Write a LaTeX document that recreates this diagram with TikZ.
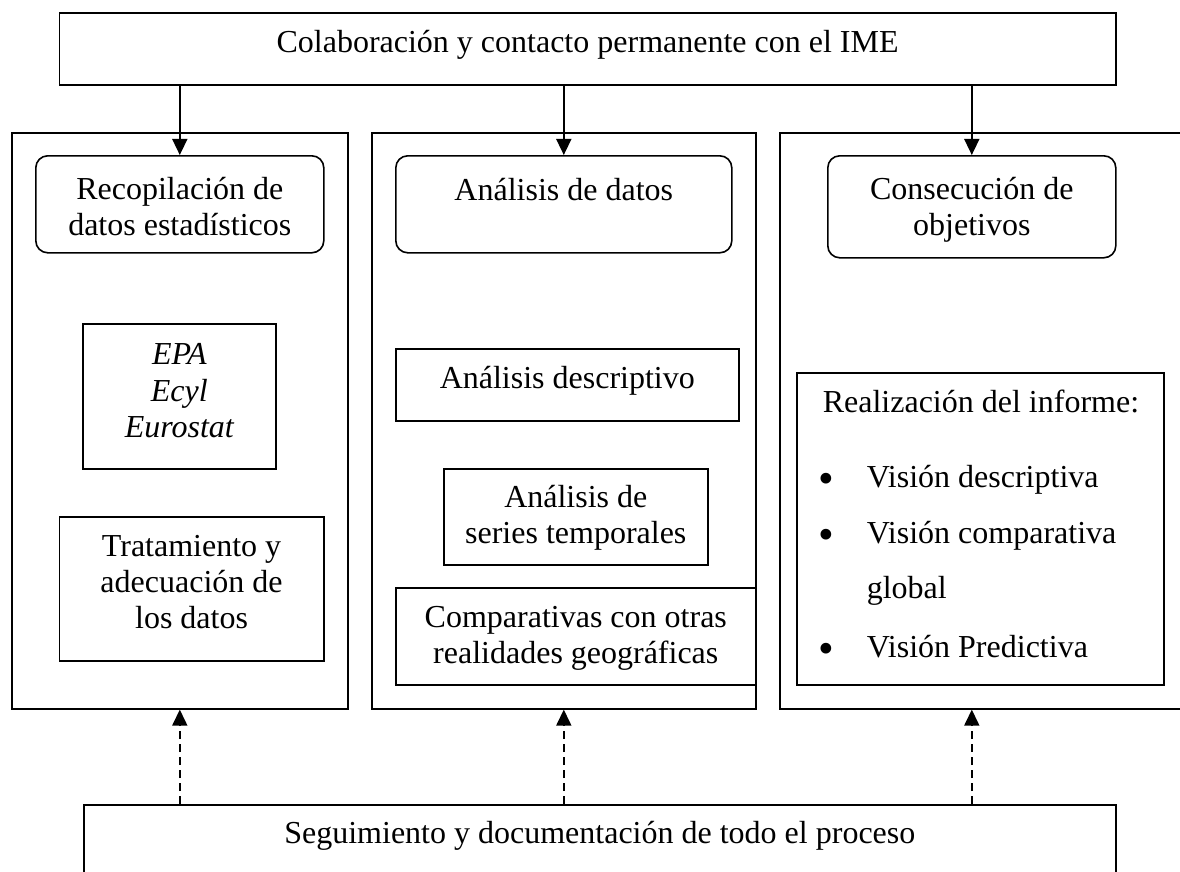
\documentclass[tikz,border=0pt]{standalone}
\usepackage{fontspec}
\setmainfont{Liberation Serif}
\usetikzlibrary{arrows.meta}

\newcommand{\bulletitem}[1]{\hspace*{-4pt}\makebox[48pt][l]{\raisebox{-6pt}{\scalebox{1.4}{\textbullet}}}#1}

\begin{document}
\begin{tikzpicture}[x=1pt,y=-1pt,
  box/.style={draw,line width=1.6pt,inner sep=0pt,anchor=north west,align=center,
    font=\fontsize{32}{36}\selectfont},
  roundbox/.style={box,rounded corners=12pt},
  panel/.style={draw,line width=1.6pt,inner sep=0pt,anchor=north west,minimum height=576pt},
  arr/.style={line width=1.6pt,-{Triangle[length=16pt,width=15pt]}},
  dasharr/.style={arr,dash pattern=on 8pt off 5pt}]
  \useasboundingbox (0,0) rectangle (1180,872);

  % Top box
  \node[box,minimum width=1056.5pt,text height=40pt,text depth=32pt] (top) at (58.5,12)
    {Colaboración y contacto permanente con el IME};

  % Three panels
  \node[panel,minimum width=336pt] (p1) at (11,132) {};
  \node[panel,minimum width=384pt] (p2) at (371,132) {};
  \node[panel,minimum width=430pt] (p3) at (779,132) {};

  % Headers of the panels (height is taken to the last line)
  \node[roundbox,minimum width=288pt,text height=80pt,text depth=17pt] (r1) at (35,155)
    {Recopilación de\\datos estadísticos};
  \node[roundbox,minimum width=336pt,text height=45pt,text depth=52pt] (r2) at (395,155)
    {Análisis de datos};
  \node[roundbox,minimum width=288pt,text height=80pt,text depth=22pt] (r3) at (827,155)
    {Consecución de\\objetivos};

  % First panel
  \node[box,minimum width=193pt,text height=114pt,text depth=31pt,
    font=\fontsize{32}{36.5}\selectfont\itshape] (epa) at (82,323)
    {EPA\\Ecyl\\Eurostat};
  \node[box,minimum width=264.5pt,text height=112pt,text depth=32pt] (trat) at (58.5,516)
    {Tratamiento y\\adecuación de\\los datos};

  % Second panel
  \node[box,minimum width=343pt,text height=40pt,text depth=32pt] (desc) at (395,348)
    {Análisis descriptivo};
  \node[box,minimum width=264pt,text height=75pt,text depth=21pt] (series) at (443,468)
    {Análisis de\\series temporales};
  \node[box,minimum width=360pt,text height=76pt,text depth=21pt] (comp) at (395,587)
    {Comparativas con otras\\realidades geográficas};

  % Third panel
  \node[box,align=flush left,inner xsep=26pt,text width=315pt,text height=40pt,text depth=272pt] (inf) at (796,372)
    {\mbox{Realización del informe:}\\[39pt]
     \bulletitem{Visión descriptiva}\\[20pt]
     \bulletitem{Visión comparativa}\\[19pt]
     \hspace*{44pt}global\\[23pt]
     \bulletitem{Visión Predictiva}};

  % Bottom box
  \node[box,minimum width=1032pt,text height=39pt,text depth=80pt] (bot) at (83,804)
    {Seguimiento y documentación de todo el proceso};

  % Arrows
  \draw[arr] (top.south -| r1.north) -- (r1.north);
  \draw[arr] (top.south -| r2.north) -- (r2.north);
  \draw[arr] (top.south -| r3.north) -- (r3.north);
  \draw[dasharr] (r1 |- bot.north) -- (r1 |- p1.south);
  \draw[dasharr] (r2 |- bot.north) -- (r2 |- p2.south);
  \draw[dasharr] (r3 |- bot.north) -- (r3 |- p3.south);
\end{tikzpicture}
\end{document}
